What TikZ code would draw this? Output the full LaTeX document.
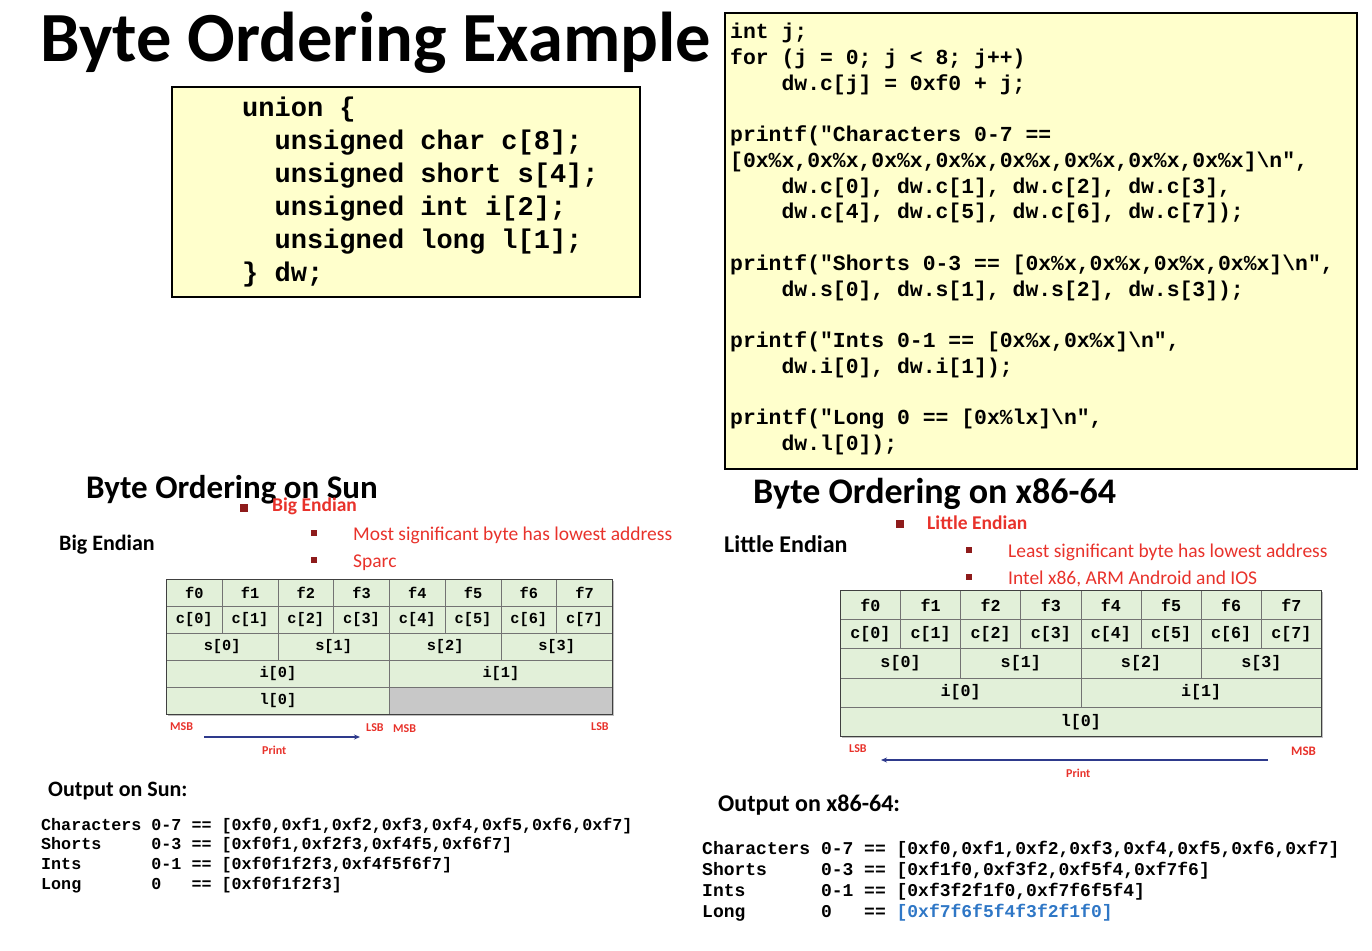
\documentclass[tikz,border=0pt]{standalone}
\usepackage{fontspec}
\setmainfont{Carlito}
\setmonofont{Liberation Mono}
\usetikzlibrary{arrows.meta}

\definecolor{codebg}{HTML}{FFFFCC}
\definecolor{cellgreen}{HTML}{E2F0D9}
\definecolor{cellgray}{HTML}{C8C8C8}
\definecolor{bulletred}{HTML}{8E1B1B}
\definecolor{textred}{HTML}{E8322B}
\definecolor{printblue}{HTML}{2E3A8C}
\definecolor{valblue}{HTML}{2F77C6}

% byte layout grid: prefix, left x, top y, column width, row height
\newcommand\bytegrid[5]{%
  \foreach \k in {0,...,7}{
    \node[cell, minimum width=#4pt, minimum height=#5pt] (#1b\k) at ({#2+\k*#4},{#3}) {f\k};
    \node[cell, minimum width=#4pt, minimum height=#5pt] (#1c\k) at ({#2+\k*#4},{#3+#5}) {c[\k]};
  }
  \foreach \k in {0,...,3}{
    \node[cell, minimum width=2*#4pt, minimum height=#5pt] (#1s\k) at ({#2+2*\k*#4},{#3+2*#5}) {s[\k]};
  }
  \foreach \k in {0,1}{
    \node[cell, minimum width=4*#4pt, minimum height=#5pt] (#1i\k) at ({#2+4*\k*#4},{#3+3*#5}) {i[\k]};
  }
}

\begin{document}
\begin{tikzpicture}[x=1pt,y=-1pt,
  title/.style={anchor=base west, inner sep=0pt, font={\fontsize{70.5}{80}\selectfont\bfseries}},
  heading/.style={anchor=base west, inner sep=0pt, font={\fontsize{33}{40}\selectfont\bfseries}},
  label/.style={anchor=base west, inner sep=0pt, font={\fontsize{22}{26}\selectfont\bfseries}},
  redhead/.style={anchor=base west, inner sep=0pt, text=textred, font={\fontsize{19.5}{23}\selectfont\bfseries}},
  redtext/.style={anchor=base west, inner sep=0pt, text=textred, font={\fontsize{19.5}{23}\selectfont}},
  bigbullet/.style={fill=bulletred, minimum size=8pt, inner sep=0pt},
  smallbullet/.style={fill=bulletred, minimum size=6pt, inner sep=0pt},
  codebox/.style={draw=black, line width=2pt, fill=codebg, anchor=north west, inner sep=0pt},
  ucode/.style={anchor=base west, inner sep=0pt, font={\fontsize{27}{33}\ttfamily\bfseries}},
  pcode/.style={anchor=base west, inner sep=0pt, font={\fontsize{21.4}{26}\ttfamily\bfseries}},
  suncode/.style={anchor=base west, inner sep=0pt, font={\fontsize{16.7}{20}\ttfamily\bfseries}},
  xcode/.style={anchor=base west, inner sep=0pt, font={\fontsize{18}{21}\ttfamily\bfseries}},
  cell/.style={draw=black!55, fill=cellgreen, line width=0.8pt, inner sep=0pt, anchor=north west},
  tinyred/.style={anchor=base west, inner sep=0pt, text=textred, font={\fontsize{12}{14}\selectfont\bfseries}},
  printarrow/.style={draw=printblue, line width=1.4pt, -{Stealth[length=6pt,width=5pt]}},
]
\useasboundingbox (0,0) rectangle (1372,950);

% ---------- title ----------
\node[title] (title) at (40,62) {Byte Ordering Example};

% ---------- union declaration ----------
\node[codebox, minimum width=468pt, minimum height=210pt] (unionbox) at (171,86) {};
\node[ucode] (u1) at (242,116) {union \{};
\node[ucode] (u2) at (242,149) {\ \ unsigned char c[8];};
\node[ucode] (u3) at (242,182) {\ \ unsigned short s[4];};
\node[ucode] (u4) at (242,215) {\ \ unsigned int i[2];};
\node[ucode] (u5) at (242,248) {\ \ unsigned long l[1];};
\node[ucode] (u6) at (242,281) {\} dw;};

% ---------- fill and print code ----------
\node[codebox, minimum width=632pt, minimum height=456pt] (printbox) at (724,12) {};
\node[pcode] (p1)  at (730,38.5)  {int j;};
\node[pcode] (p2)  at (730,64.25) {for (j = 0; j < 8; j++)};
\node[pcode] (p3)  at (730,90)    {\ \ \ \ dw.c[j] = 0xf0 + j;};
\node[pcode] (p5)  at (730,141.5) {printf("Characters 0-7 ==};
\node[pcode] (p6)  at (730,167.25){[0x\%x,0x\%x,0x\%x,0x\%x,0x\%x,0x\%x,0x\%x,0x\%x]\textbackslash n",};
\node[pcode] (p7)  at (730,193)   {\ \ \ \ dw.c[0], dw.c[1], dw.c[2], dw.c[3],};
\node[pcode] (p8)  at (730,218.75){\ \ \ \ dw.c[4], dw.c[5], dw.c[6], dw.c[7]);};
\node[pcode] (p10) at (730,270.25){printf("Shorts 0-3 == [0x\%x,0x\%x,0x\%x,0x\%x]\textbackslash n",};
\node[pcode] (p11) at (730,296)   {\ \ \ \ dw.s[0], dw.s[1], dw.s[2], dw.s[3]);};
\node[pcode] (p13) at (730,347.5) {printf("Ints 0-1 == [0x\%x,0x\%x]\textbackslash n",};
\node[pcode] (p14) at (730,373.25){\ \ \ \ dw.i[0], dw.i[1]);};
\node[pcode] (p16) at (730,424.75){printf("Long 0 == [0x\%lx]\textbackslash n",};
\node[pcode] (p17) at (730,450.5) {\ \ \ \ dw.l[0]);};

% ---------- Sun (big endian) ----------
\node[heading] (sunhead) at (86,498) {Byte Ordering on Sun};
\node[bigbullet] (sunb0) at (244,508) {};
\node[redhead] (sunbig) at (272,511) {Big Endian};
\node[label] (sunlabel) at (59,550) {Big Endian};
\node[smallbullet] (sunb1) at (314,533) {};
\node[redtext] (sunmsb) at (353,540) {Most significant byte has lowest address};
\node[smallbullet] (sunb2) at (314,560) {};
\node[redtext] (sunsparc) at (353,567) {Sparc};

\fill[black!25] (168,581) rectangle (614,716);
\begin{scope}[cell/.append style={font={\fontsize{15.3}{18}\ttfamily\bfseries}}]
\bytegrid{sun}{166}{579}{55.75}{27}
\node[cell, minimum width=223pt, minimum height=27pt] (sunl0) at (166,687) {l[0]};
\node[cell, fill=cellgray, minimum width=223pt, minimum height=27pt] (sunpad) at (389,687) {};
\end{scope}
\draw[black!75, line width=1pt] (166,579) rectangle (612,714);
\node[tinyred] (sunm1) at (170,730) {MSB};
\node[tinyred] (sunl1) at (366,731) {LSB};
\node[tinyred] (sunm2) at (393,732) {MSB};
\node[tinyred] (sunl2) at (591,730) {LSB};
\coordinate (sunfrom) at (204,737);
\coordinate (sunto) at (360,737);
\draw[printarrow] (sunfrom) -- (sunto);
\node[tinyred] (sunprint) at (262,754) {Print};

% ---------- x86-64 (little endian) ----------
\node[heading, font={\fontsize{36}{42}\selectfont\bfseries}] (xhead) at (753,503) {Byte Ordering on x86-64};
\node[bigbullet] (xb0) at (900,524) {};
\node[redhead] (xlittle) at (927,529) {Little Endian};
\node[label, font={\fontsize{24}{28}\selectfont\bfseries}] (xlabel) at (724,552) {Little Endian};
\node[smallbullet] (xb1) at (969,550) {};
\node[redtext] (xlsb) at (1008,557) {Least significant byte has lowest address};
\node[smallbullet] (xb2) at (969,577) {};
\node[redtext] (xintel) at (1008,584) {Intel x86, ARM Android and IOS};

\fill[black!25] (842,592) rectangle (1323,738);
\begin{scope}[cell/.append style={font={\fontsize{16.7}{20}\ttfamily\bfseries}}]
\bytegrid{x}{840}{590}{60.125}{29.2}
\node[cell, minimum width=481pt, minimum height=29.2pt] (xl0) at (840,706.8) {l[0]};
\end{scope}
\draw[black!75, line width=1pt] (840,590) rectangle (1321,736);
\node[tinyred] (xl1) at (849,752) {LSB};
\node[tinyred, font={\fontsize{13}{15}\selectfont\bfseries}] (xm1) at (1291,755) {MSB};
\coordinate (xfrom) at (1268,760);
\coordinate (xto) at (881,760);
\draw[printarrow] (xfrom) -- (xto);
\node[tinyred] (xprint) at (1066,777) {Print};

% ---------- outputs ----------
\node[label] (sunout) at (48,796) {Output on Sun:};
\node[suncode] (so1) at (41,830) {Characters 0-7 == [0xf0,0xf1,0xf2,0xf3,0xf4,0xf5,0xf6,0xf7]};
\node[suncode] (so2) at (41,849.7) {Shorts\ \ \ \ \ 0-3 == [0xf0f1,0xf2f3,0xf4f5,0xf6f7]};
\node[suncode] (so3) at (41,869.4) {Ints\ \ \ \ \ \ \ 0-1 == [0xf0f1f2f3,0xf4f5f6f7]};
\node[suncode] (so4) at (41,889.1) {Long\ \ \ \ \ \ \ 0\ \ \ == [0xf0f1f2f3]};

\node[label, font={\fontsize{24}{28}\selectfont\bfseries}] (xout) at (718,811) {Output on x86-64:};
\node[xcode] (xo1) at (702,854) {Characters 0-7 == [0xf0,0xf1,0xf2,0xf3,0xf4,0xf5,0xf6,0xf7]};
\node[xcode] (xo2) at (702,875.3) {Shorts\ \ \ \ \ 0-3 == [0xf1f0,0xf3f2,0xf5f4,0xf7f6]};
\node[xcode] (xo3) at (702,896.6) {Ints\ \ \ \ \ \ \ 0-1 == [0xf3f2f1f0,0xf7f6f5f4]};
\node[xcode] (xo4) at (702,917.9) {Long\ \ \ \ \ \ \ 0\ \ \ == \textcolor{valblue}{[0xf7f6f5f4f3f2f1f0]}};
\end{tikzpicture}
\end{document}
